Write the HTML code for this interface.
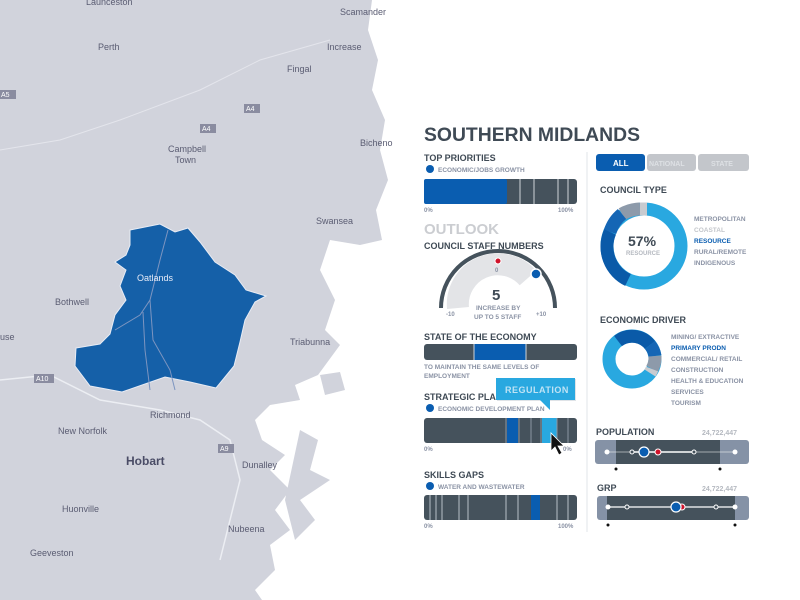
<!DOCTYPE html>
<html><head><meta charset="utf-8"><style>
body{margin:0;width:800px;height:600px;overflow:hidden;background:#fff;font-family:"Liberation Sans",sans-serif;}
svg{position:absolute;left:0;top:0}
.t{font-family:"Liberation Sans",sans-serif;font-weight:bold;}
</style></head><body>
<svg width="800" height="600" viewBox="0 0 800 600">
<path d="M0,0 L372,0 L368,30 L378,60 L372,90 L385,120 L380,150 L388,180 L376,210 L382,240 L360,245 L330,240 L320,270 L335,300 L325,330 L340,345 L318,375 L295,385 L300,400 L270,405 L255,420 L262,440 L285,455 L270,470 L290,490 L275,510 L290,530 L270,545 L275,570 L255,590 L262,600 L0,600 Z" fill="#d1d3dc"/>
<path d="M300,430 L318,440 L310,470 L330,480 L300,500 L315,520 L295,540 L285,500 Z" fill="#d1d3dc"/>
<path d="M320,375 L340,372 L345,390 L325,395 Z" fill="#d1d3dc"/>
<path d="M0,150 L60,140 L120,120 L200,90 L260,60 L330,40" stroke="#e4e5ec" stroke-width="1" fill="none"/>
<path d="M0,380 L50,375 L100,400 L160,410 L200,420 L230,440 L240,480 L230,520 L220,560" stroke="#eceef3" stroke-width="1.5" fill="none"/>
<path d="M130,230 L160,224 L175,232 L188,228 L200,242 L215,262 L235,275 L246,290 L266,296 L255,302 L245,320 L240,342 L234,366 L216,388 L190,382 L165,377 L122,392 L90,386 L75,366 L76,348 L100,344 L110,334 L115,315 L126,300 L120,286 L126,270 L115,262 L126,255 L130,245 Z" fill="#1560a8" stroke="#e8ecf5" stroke-width="1"/>
<path d="M168,230 L160,260 L150,300 L140,315 L115,330 M143,312 L145,350 L150,390 M150,300 L153,340 L170,370 L175,390" stroke="#7d95c0" fill="none"/>
<g font-size="9" fill="#5a5c72" font-family="Liberation Sans">
<text x="86" y="5">Launceston</text><text x="340" y="15">Scamander</text>
<text x="98" y="50">Perth</text><text x="327" y="50">Increase</text>
<text x="287" y="72">Fingal</text><text x="168" y="152">Campbell</text><text x="175" y="163">Town</text>
<text x="360" y="146">Bicheno</text><text x="316" y="224">Swansea</text><text x="137" y="281" fill="#e8ecf8">Oatlands</text>
<text x="55" y="305">Bothwell</text><text x="290" y="345">Triabunna</text><text x="150" y="418">Richmond</text>
<text x="58" y="434">New Norfolk</text><text x="126" y="465" font-size="12" font-weight="bold" fill="#4a4c66">Hobart</text>
<text x="242" y="468">Dunalley</text><text x="62" y="512">Huonville</text><text x="228" y="532">Nubeena</text>
<text x="30" y="556">Geeveston</text><text x="0" y="340">use</text>
</g>
<g font-size="7" fill="#fff"><rect x="0" y="90" width="16" height="9" fill="#8a8ca0"/><text x="1" y="97" fill="#fff">A5</text>
<rect x="244" y="104" width="16" height="9" fill="#8a8ca0"/><text x="246" y="111">A4</text>
<rect x="200" y="124" width="16" height="9" fill="#8a8ca0"/><text x="202" y="131">A4</text>
<rect x="34" y="374" width="20" height="9" fill="#8a8ca0"/><text x="36" y="381">A10</text>
<rect x="218" y="444" width="16" height="9" fill="#8a8ca0"/><text x="220" y="451">A9</text></g>

<g class="t">
<text x="424" y="141" font-size="19" fill="#3f4a55" textLength="216" lengthAdjust="spacingAndGlyphs">SOUTHERN MIDLANDS</text>
<line x1="587" y1="152" x2="587" y2="532" stroke="#e2e4e8"/>
<text x="424" y="161" font-size="9" fill="#3f4a55">TOP PRIORITIES</text>
<circle cx="430" cy="169" r="4" fill="#0a5db0"/><text x="438" y="172" font-size="6.5" fill="#8a92a4">ECONOMIC/JOBS GROWTH</text>
<rect x="424" y="179" width="153" height="25" rx="3" fill="#45525c"/>
<rect x="424" y="179" width="83" height="25" rx="2" fill="#0a5db0"/>
<path d="M520,179v25M534,179v25M558,179v25M568,179v25" stroke="#cfd4d8"/>
<text x="424" y="212" font-size="6" fill="#8a92a4">0%</text><text x="558" y="212" font-size="6" fill="#8a92a4">100%</text>
<text x="424" y="234" font-size="15" fill="#cbcdd1">OUTLOOK</text>
<text x="424" y="249" font-size="9" fill="#3f4a55">COUNCIL STAFF NUMBERS</text>
<path d="M441,308 A57,57 0 0 1 555,308" stroke="#45525c" stroke-width="4" fill="none"/>
<path d="M458,308 A40,40 0 0 1 528,278" stroke="#e3e4e7" stroke-width="22" fill="none"/>
<circle cx="498" cy="261" r="3" fill="#d0122a" stroke="#fff"/><circle cx="536" cy="274" r="5" fill="#0a5db0" stroke="#fff" stroke-width="1.5"/>
<text x="495" y="272" font-size="6" fill="#8a92a4">0</text>
<text x="492" y="300" font-size="15" fill="#3f4a55">5</text>
<text x="476" y="310" font-size="6.5" fill="#8a92a4">INCREASE BY</text><text x="474" y="319" font-size="6.5" fill="#8a92a4">UP TO 5 STAFF</text>
<text x="446" y="316" font-size="6" fill="#8a92a4">-10</text><text x="536" y="316" font-size="6" fill="#8a92a4">+10</text>
<text x="424" y="340" font-size="9" fill="#3f4a55">STATE OF THE ECONOMY</text>
<rect x="424" y="344" width="153" height="16" rx="3" fill="#45525c"/><rect x="474" y="344" width="52" height="16" fill="#0a5db0"/>
<path d="M474,344v16M526,344v16" stroke="#cfd4d8"/>
<text x="424" y="369" font-size="6.5" fill="#8a92a4">TO MAINTAIN THE SAME LEVELS OF</text><text x="424" y="378" font-size="6.5" fill="#8a92a4">EMPLOYMENT</text>
<text x="424" y="400" font-size="9" fill="#3f4a55">STRATEGIC PLA</text>
<circle cx="430" cy="408" r="4" fill="#0a5db0"/><text x="438" y="411" font-size="6.5" fill="#8a92a4">ECONOMIC DEVELOPMENT PLAN</text>
<rect x="424" y="418" width="153" height="25" rx="3" fill="#45525c"/>
<rect x="507" y="418" width="11" height="25" fill="#0a5db0"/><rect x="542" y="418" width="15" height="25" fill="#29a8e0"/>
<path d="M506,418v25M519,418v25M531,418v25M541,418v25M557,418v25M568,418v25" stroke="#8a96a2"/>
<rect x="497" y="379" width="79" height="22" fill="#bfc8d0" opacity="0.5"/>
<rect x="496" y="378" width="79" height="22" fill="#29a8e0"/><path d="M540,400 L550,410 L550,400Z" fill="#29a8e0"/>
<text x="505" y="393" font-size="9" fill="#bfe3f5" letter-spacing="0.5">REGULATION</text>
<path d="M551,433 L551,451 L555,447 L559,455 L562,453 L558,446 L564,446 Z" fill="#111" stroke="#fff" stroke-width="0.8"/>
<text x="424" y="451" font-size="6" fill="#8a92a4">0%</text><text x="563" y="451" font-size="6" fill="#8a92a4">0%</text>
<text x="424" y="478" font-size="9" fill="#3f4a55">SKILLS GAPS</text>
<circle cx="430" cy="486" r="4" fill="#0a5db0"/><text x="438" y="489" font-size="6.5" fill="#8a92a4">WATER AND WASTEWATER</text>
<rect x="424" y="495" width="153" height="25" rx="3" fill="#45525c"/><rect x="531" y="495" width="9" height="25" fill="#0a5db0"/>
<path d="M430,495v25M436,495v25M442,495v25M459,495v25M468,495v25M506,495v25M518,495v25M557,495v25M568,495v25" stroke="#b8c0c8"/>
<text x="424" y="528" font-size="6" fill="#8a92a4">0%</text><text x="558" y="528" font-size="6" fill="#8a92a4">100%</text>

<rect x="596" y="154" width="49" height="17" rx="3" fill="#0a5db0"/><text x="613" y="166" font-size="8" fill="#fff">ALL</text>
<rect x="647" y="154" width="49" height="17" rx="3" fill="#c3c6cb"/><text x="649" y="166" font-size="7" fill="#dde0e4">NATIONAL</text>
<rect x="698" y="154" width="51" height="17" rx="3" fill="#c3c6cb"/><text x="711" y="166" font-size="7" fill="#dde0e4">STATE</text>
<text x="600" y="193" font-size="9" fill="#3f4a55">COUNCIL TYPE</text>
<g fill="none" stroke-width="13">
<circle cx="644" cy="246" r="37" stroke="#29a8e0"/>
<path d="M640,209 A37,37 0 0 0 622,214" stroke="#8d9aaa"/>
<path d="M622,214 A37,37 0 0 0 610,232" stroke="#1566b5"/>
<path d="M610,232 A37,37 0 0 0 628,280" stroke="#0a5aa8"/>
<path d="M640,209 L647,209" stroke="#c8cbd0"/>
</g>
<text x="628" y="246" font-size="14" fill="#3f4a55">57%</text><text x="626" y="255" font-size="6" fill="#b5b9c0">RESOURCE</text>
<g font-size="6.5" fill="#8a92a4"><text x="694" y="221">METROPOLITAN</text><text x="694" y="232" fill="#c3c6cb">COASTAL</text><text x="694" y="243" fill="#0a5db0">RESOURCE</text><text x="694" y="254">RURAL/REMOTE</text><text x="694" y="265">INDIGENOUS</text></g>
<text x="600" y="323" font-size="9" fill="#3f4a55">ECONOMIC DRIVER</text>
<g fill="none" stroke-width="13">
<circle cx="632" cy="359" r="23" stroke="#29a8e0"/>
<path d="M618,341 A23,23 0 0 1 650,345" stroke="#0a5aa8"/>
<path d="M650,345 A23,23 0 0 1 655,356" stroke="#1566b5"/>
<path d="M655,356 A23,23 0 0 1 652,369" stroke="#8d9aaa"/>
<path d="M652,369 A23,23 0 0 1 650,373" stroke="#c8cbd0"/>
</g>
<g font-size="6.5" fill="#8a92a4"><text x="671" y="339">MINING/ EXTRACTIVE</text><text x="671" y="350" fill="#0a5db0">PRIMARY PRODN</text><text x="671" y="361">COMMERCIAL/ RETAIL</text><text x="671" y="372">CONSTRUCTION</text><text x="671" y="383">HEALTH &amp; EDUCATION</text><text x="671" y="394">SERVICES</text><text x="671" y="405">TOURISM</text></g>
<text x="596" y="435" font-size="9" fill="#3f4a55">POPULATION</text><text x="702" y="435" font-size="7" fill="#b5b9c0">24,722,447</text>
<rect x="595" y="440" width="154" height="24" rx="3" fill="#8592a6"/><rect x="616" y="440" width="104" height="24" fill="#45525c"/>
<line x1="606" y1="452" x2="735" y2="452" stroke="#fff" stroke-width="0.6"/><line x1="632" y1="452" x2="694" y2="452" stroke="#fff" stroke-width="1.5"/>
<circle cx="607" cy="452" r="2.5" fill="#fff"/><circle cx="735" cy="452" r="2.5" fill="#fff"/><circle cx="632" cy="452" r="2" fill="#45525c" stroke="#fff"/><circle cx="694" cy="452" r="2" fill="#45525c" stroke="#fff"/>
<circle cx="658" cy="452" r="3" fill="#d0122a" stroke="#fff"/><circle cx="644" cy="452" r="5" fill="#0a5db0" stroke="#fff" stroke-width="1.2"/>
<circle cx="616" cy="469" r="1.5" fill="#111"/><circle cx="720" cy="469" r="1.5" fill="#111"/>
<text x="597" y="491" font-size="9" fill="#3f4a55">GRP</text><text x="702" y="491" font-size="7" fill="#b5b9c0">24,722,447</text>
<rect x="597" y="496" width="152" height="24" rx="3" fill="#8592a6"/><rect x="607" y="496" width="128" height="24" fill="#45525c"/>
<line x1="608" y1="507" x2="735" y2="507" stroke="#fff" stroke-width="1.2"/>
<circle cx="608" cy="507" r="2.5" fill="#fff"/><circle cx="735" cy="507" r="2.5" fill="#fff"/><circle cx="627" cy="507" r="2" fill="#45525c" stroke="#fff"/><circle cx="716" cy="507" r="2" fill="#45525c" stroke="#fff"/>
<circle cx="682" cy="507" r="3" fill="#d0122a" stroke="#fff"/><circle cx="676" cy="507" r="5" fill="#0a5db0" stroke="#fff" stroke-width="1.2"/>
<circle cx="608" cy="525" r="1.5" fill="#111"/><circle cx="735" cy="525" r="1.5" fill="#111"/>
</g>
</svg>
</body></html>
